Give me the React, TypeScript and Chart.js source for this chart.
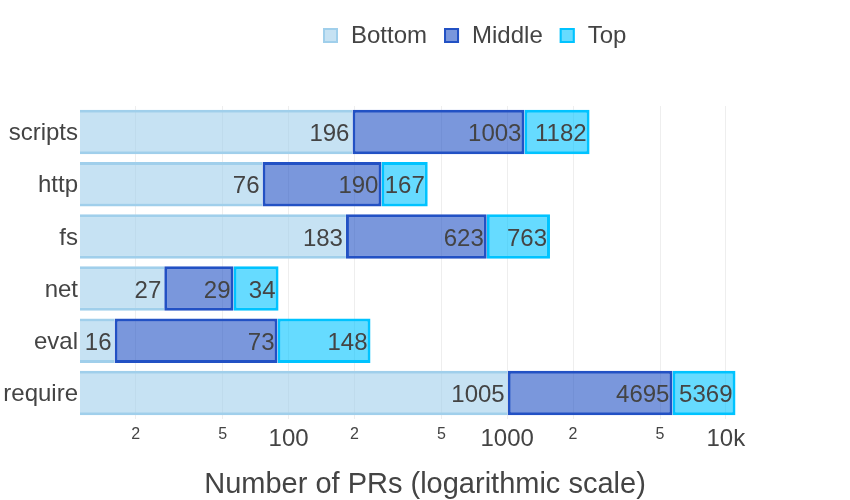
import { useEffect, useRef } from 'react'
import { Chart, registerables } from 'chart.js'
Chart.register(...registerables)

const categories = ['scripts', 'http', 'fs', 'net', 'eval', 'require']
const bottomValues = [196, 76, 183, 27, 16, 1005]
const middleValues = [1003, 190, 623, 29, 73, 4695]
const topValues = [1182, 167, 763, 34, 148, 5369]
const tickValues = [20, 50, 100, 200, 500, 1000, 2000, 5000, 10000]
const tickLabels = ['2', '5', '100', '2', '5', '1000', '2', '5', '10k']
const majorTicks = [100, 1000, 10000]
const xMin = 11.12
const xMax = 15920

const FONT = '"Liberation Sans", Arial, sans-serif'
const INK = '#444'

// value text at the inner end of every bar
const barLabels = {
  id: 'barLabels',
  afterDatasetsDraw(chart: any) {
    const ctx = chart.ctx
    ctx.save()
    ctx.font = `24px ${FONT}`
    ctx.fillStyle = INK
    ctx.textAlign = 'right'
    ctx.textBaseline = 'middle'
    chart.data.datasets.forEach((ds: any, i: number) => {
      chart.getDatasetMeta(i).data.forEach((bar: any, j: number) => {
        ctx.fillText(String(ds.data[j]), bar.x - 3, bar.y + 2.5)
      })
    })
    ctx.restore()
  }
}

// plotly-like horizontal legend above the plot
const topLegend = {
  id: 'topLegend',
  afterDraw(chart: any) {
    const ctx = chart.ctx
    ctx.save()
    ctx.font = `24px ${FONT}`
    ctx.textBaseline = 'middle'
    let x = 323
    const y = 35.5
    chart.data.datasets.forEach((ds: any) => {
      ctx.fillStyle = ds.backgroundColor
      ctx.fillRect(x, y - 7.5, 15, 15)
      ctx.strokeStyle = ds.borderColor
      ctx.lineWidth = 2
      ctx.strokeRect(x + 1, y - 6.5, 13, 13)
      ctx.fillStyle = INK
      ctx.fillText(ds.label, x + 28, y + 1)
      x += 28 + ctx.measureText(ds.label).width + 17
    })
    ctx.restore()
  }
}

export default function App() {
  const ref = useRef<HTMLCanvasElement | null>(null)
  useEffect(() => {
    if (!ref.current) return
    const chart = new Chart(ref.current, {
      type: 'bar',
      data: {
        labels: categories,
        datasets: [
          {
            label: 'Bottom', data: bottomValues,
            backgroundColor: 'rgba(160,207,235,0.6)', borderColor: 'rgb(160,207,235)',
            borderWidth: { top: 3, bottom: 3, left: 0, right: 0 }, borderSkipped: false
          },
          {
            label: 'Middle', data: middleValues,
            backgroundColor: 'rgba(34,81,196,0.6)', borderColor: 'rgb(34,81,196)',
            borderWidth: 3, borderSkipped: false
          },
          {
            label: 'Top', data: topValues,
            backgroundColor: 'rgba(0,195,255,0.6)', borderColor: 'rgb(0,195,255)',
            borderWidth: 3, borderSkipped: false
          }
        ]
      },
      options: {
        animation: false,
        responsive: false,
        indexAxis: 'y',
        datasets: { bar: { barPercentage: 0.853, categoryPercentage: 1 } },
        layout: { padding: { top: 106, right: 80, left: 0, bottom: 0 } },
        plugins: { legend: { display: false }, tooltip: { enabled: false } },
        scales: {
          x: {
            type: 'logarithmic', stacked: true, min: xMin, max: xMax,
            afterFit: (s: any) => { s.height = 81 },
            afterBuildTicks: (s: any) => { s.ticks = tickValues.map(v => ({ value: v })) },
            grid: { color: '#eee', lineWidth: 1, drawTicks: false },
            border: { display: false },
            ticks: {
              padding: 6, color: INK, autoSkip: false, maxRotation: 0,
              font: (c: any) => ({ family: FONT, size: majorTicks.includes(c.tick?.value) ? 24 : 16 }),
              callback: (v: any) => tickLabels[tickValues.indexOf(Number(v))] ?? ''
            },
            title: {
              display: true, text: 'Number of PRs (logarithmic scale)', color: INK,
              font: { family: FONT, size: 29 }, padding: { top: 0, bottom: -2.5 }
            }
          },
          y: {
            stacked: true,
            afterFit: (s: any) => { s.width = 80 },
            grid: { display: false, drawTicks: false },
            border: { display: false },
            ticks: { color: INK, font: { family: FONT, size: 24 }, padding: 2, labelOffset: 1.5 }
          }
        }
      },
      plugins: [barLabels, topLegend]
    })
    return () => chart.destroy()
  }, [])
  return (
    <div style={{ position: 'absolute', left: 0, top: 0, width: 850, height: 500, background: '#fff' }}>
      <canvas ref={ref} width={850} height={500} />
    </div>
  )
}
